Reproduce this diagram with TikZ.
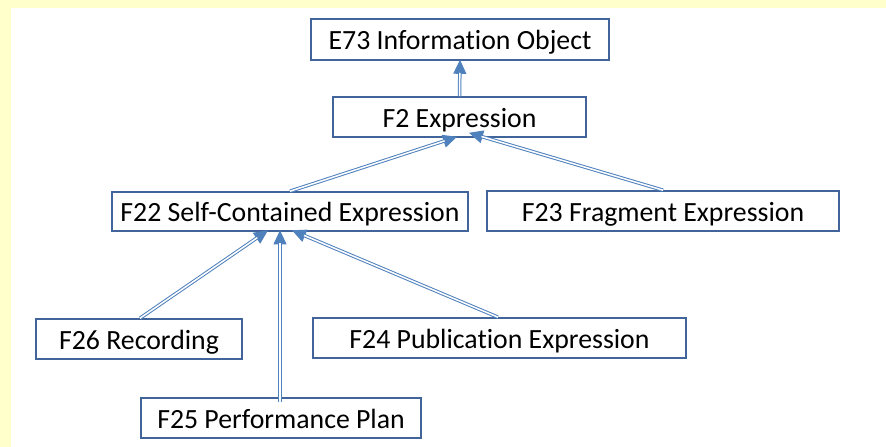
\documentclass[tikz,border=0pt]{standalone}
\usepackage{fontspec}
\setmainfont{Carlito}[Ligatures=NoCommon]
\usetikzlibrary{arrows.meta}
\definecolor{pagebg}{HTML}{FFFFCC}
\definecolor{boxline}{HTML}{41659A}
\definecolor{linkblue}{HTML}{4F81BD}
\begin{document}
\begin{tikzpicture}[x=1pt,y=-1pt,
  cls/.style={draw=boxline, line width=1.6pt, fill=white, inner sep=0pt,
    font=\fontsize{27.8}{32}\selectfont, text=black,
    text height=20.5pt, text depth=0pt},
  isatip/.style={draw=linkblue, line width=1pt,
    -{Triangle[length=14pt,width=13pt,fill=linkblue]}},
  isashaft/.style={draw=linkblue, line width=1pt, double=white,
    double distance=1.5pt, shorten >=13pt}]
  % background: pale margin on top and left, white drawing area
  \fill[pagebg] (0,0) rectangle (886,447);
  \fill[white] (11,8) rectangle (886,447);
  \useasboundingbox (0,0) rectangle (886,447);

  % classes
  \node[cls, minimum width=298pt, minimum height=41pt] (e73) at (460,39.5) {E73 Information Object};
  \node[cls, minimum width=253pt, minimum height=40pt] (f2)  at (459.5,117) {F2 Expression};
  \node[cls, minimum width=356pt, minimum height=39pt] (f22) at (290,211.5) {F22 Self-Contained Expression};
  \node[cls, minimum width=352pt, minimum height=40pt] (f23) at (663,211) {F23 Fragment Expression};
  \node[cls, minimum width=206pt, minimum height=40pt] (f26) at (139,339) {F26 Recording};
  \node[cls, minimum width=373pt, minimum height=40pt] (f24) at (499.5,338) {F24 Publication Expression};
  \node[cls, minimum width=280pt, minimum height=40pt] (f25) at (281,418) {F25 Performance Plan};

  % arrow tips on the superclasses
  \coordinate (t-e73) at ([yshift=1pt]e73.south);
  \coordinate (t-f2a) at ([xshift=-2.5pt,yshift=1pt]f2.south);
  \coordinate (t-f2b) at ([xshift=9.5pt,yshift=5pt]f2.south);
  \coordinate (t-f22a) at ([xshift=-22pt,yshift=1.5pt]f22.south);
  \coordinate (t-f22b) at ([xshift=-10pt,yshift=1.5pt]f22.south);
  \coordinate (t-f22c) at ([xshift=2pt,yshift=1.5pt]f22.south);
  % free ends on the subclasses
  \coordinate (s-f25) at ([xshift=-1pt,yshift=-5pt]f25.north);
  \coordinate (s-f26) at ([xshift=1pt]f26.north);
  \coordinate (s-f24) at ([xshift=-1.5pt]f24.north);

  % subclass links: thin arrow first, double shaft over it
  \foreach \s/\t in {f2.north/t-e73, f22.north/t-f2a, f23.north/t-f2b,
                     s-f26/t-f22a, s-f25/t-f22b, s-f24/t-f22c} {
    \draw[isatip] (\s) -- (\t);
    \draw[isashaft] (\s) -- (\t);
  }
\end{tikzpicture}
\end{document}
